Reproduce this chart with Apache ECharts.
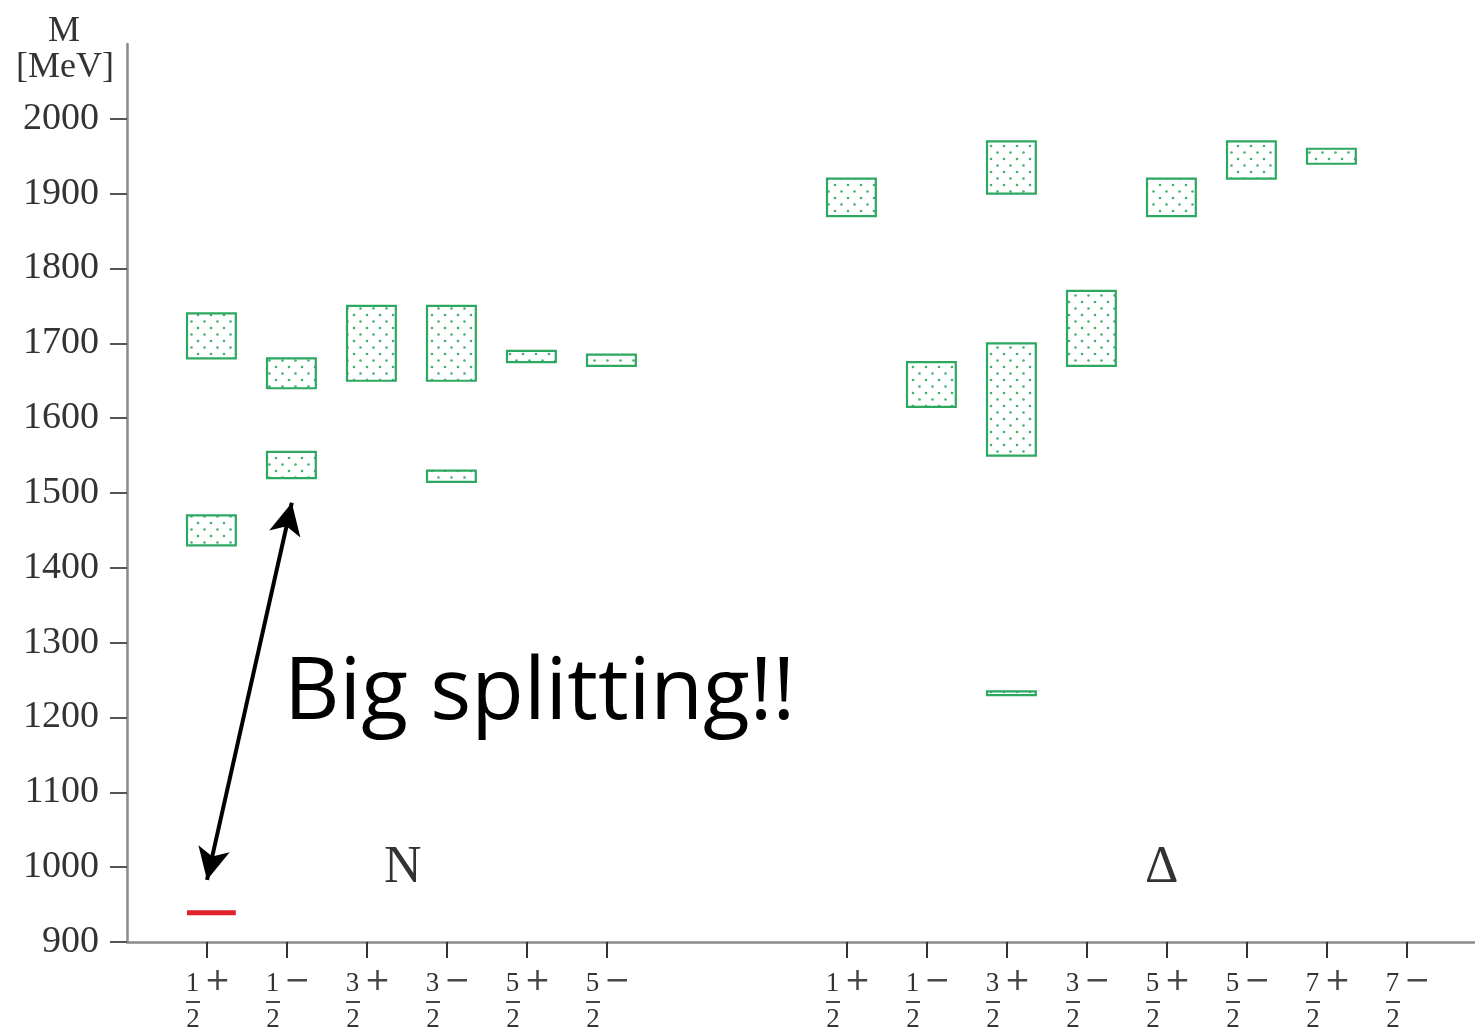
<!DOCTYPE html>
<html>
<head>
<meta charset="utf-8">
<title>N and Δ spectrum</title>
<script src="https://cdn.jsdelivr.net/npm/echarts@6/dist/echarts.min.js"></script>
<style>
  html, body { margin: 0; padding: 0; background: #ffffff; }
  #chart { width: 1475px; height: 1034px; }
</style>
</head>
<body>
<div id="chart"></div>
<script>
// J^P channels along the x axis (N on the left, Δ on the right)
const tickPositions  = [1, 2, 3, 4, 5, 6, 9, 10, 11, 12, 13, 14, 15, 16];
const tickNumerators = ['1', '1', '3', '3', '5', '5', '1', '1', '3', '3', '5', '5', '7', '7'];
const tickParities   = ['+', '−', '+', '−', '+', '−', '+', '−', '+', '−', '+', '−', '+', '−'];

// mass tick labels [MeV]
const massTicks = [900, 1000, 1100, 1200, 1300, 1400, 1500, 1600, 1700, 1800, 1900, 2000];

// resonance mass ranges [MeV]: channel position, lower and upper edge
const bandPos  = [1,    1,    2,    2,    3,    4,    4,    5,    6,    9,    10,   11,   11,   11,   12,   13,   14,   15];
const bandLow  = [1430, 1680, 1520, 1640, 1650, 1650, 1515, 1675, 1670, 1870, 1615, 1900, 1550, 1230, 1670, 1870, 1920, 1940];
const bandHigh = [1470, 1740, 1555, 1680, 1750, 1750, 1530, 1690, 1685, 1920, 1675, 1970, 1700, 1235, 1770, 1920, 1970, 1960];

// nucleon ground state
const groundPos  = [1];
const groundMass = [939];

// annotation arrow ends (channel position, mass)
const arrowFrom = [1.0, 983];
const arrowTo   = [2.06, 1487];

const GREEN = '#2ca860';
const BOX_L = -0.25, BOX_R = 0.36;

// dotted fill used inside the resonance boxes
function makeDots() {
  const c = document.createElement('canvas');
  c.width = 13; c.height = 13;
  const g = c.getContext('2d');
  g.fillStyle = 'rgba(44,168,96,0.9)';
  [[3, 3], [9.5, 9.5]].forEach(([x, y]) => {
    g.beginPath(); g.arc(x, y, 1.3, 0, Math.PI * 2); g.fill();
  });
  return c;
}
const dotPattern = { image: makeDots(), repeat: 'repeat' };

const bandData = bandPos.map((p, i) => [p, bandLow[i], bandHigh[i]]);
const groundData = groundPos.map((p, i) => [p, groundMass[i]]);

const chart = echarts.init(document.getElementById('chart'), null, { renderer: 'canvas' });

const serif = '"Liberation Serif", "DejaVu Serif", serif';

chart.setOption({
  animation: false,
  backgroundColor: '#ffffff',
  grid: { left: 127, right: 0, top: 44, bottom: 92 },
  xAxis: {
    type: 'value',
    min: 0,
    max: 16.85,
    splitLine: { show: false },
    axisLine: { show: true, lineStyle: { color: '#8a8a8a', width: 2.5 } },
    axisTick: {
      show: true, customValues: tickPositions, length: 16, inside: false,
      lineStyle: { color: '#333', width: 2 }
    },
    axisLabel: {
      show: true,
      customValues: tickPositions,
      margin: 29,
      hideOverlap: false,
      formatter: function (v) {
        const i = tickPositions.indexOf(v);
        if (i < 0) return '';
        return '{n|' + tickNumerators[i] + '}{s|' + tickParities[i] + '}\n' +
               '{p|}{b|}{q|}\n' +
               '{d|2}{g|}';
      },
      rich: {
        n: { fontFamily: serif, fontSize: 27, color: '#333', width: 20, align: 'center', lineHeight: 26 },
        s: { fontFamily: '"DejaVu Serif", serif', fontSize: 31, color: '#444', width: 28, align: 'left', lineHeight: 26, padding: [0, 0, 4, 1] },
        p: { width: 3, height: 2, lineHeight: 10 },
        b: { width: 14, height: 2, lineHeight: 10, backgroundColor: '#444' },
        q: { width: 31, height: 2, lineHeight: 10 },
        d: { fontFamily: serif, fontSize: 27, color: '#333', width: 20, align: 'center', lineHeight: 26 },
        g: { width: 28, lineHeight: 26 }
      }
    }
  },
  yAxis: {
    type: 'value',
    min: 900,
    max: 2100,
    splitLine: { show: false },
    axisLine: { show: true, lineStyle: { color: '#8a8a8a', width: 2.5 } },
    axisTick: {
      show: true, customValues: massTicks, length: 17, inside: false,
      lineStyle: { color: '#555', width: 2 }
    },
    axisLabel: {
      show: true,
      customValues: massTicks,
      margin: 28,
      formatter: function (v) { return String(v); },
      fontFamily: serif,
      fontSize: 38,
      color: '#333'
    }
  },
  graphic: [
    { type: 'text', left: 48, top: 14, style: { text: 'M', font: '36px ' + serif, fill: '#333' } },
    { type: 'text', left: 16, top: 50, style: { text: '[MeV]', font: '36px ' + serif, fill: '#333' } },
    { type: 'text', left: 284, top: 651, style: { text: 'Big splitting!!', font: '86px "Open Sans", sans-serif', fill: '#000' } },
    { type: 'text', left: 384, top: 842, style: { text: 'N', font: '52px ' + serif, fill: '#333' } },
    { type: 'text', left: 1145, top: 842, style: { text: 'Δ', font: '52px ' + serif, fill: '#333' } }
  ],
  series: [
    {
      name: 'resonances',
      type: 'custom',
      data: bandData,
      encode: { x: 0, y: [1, 2] },
      renderItem: function (params, api) {
        const k = api.value(0), lo = api.value(1), hi = api.value(2);
        const a = api.coord([k + BOX_L, hi]);
        const b = api.coord([k + BOX_R, lo]);
        return {
          type: 'rect',
          shape: { x: a[0], y: a[1], width: b[0] - a[0], height: b[1] - a[1] },
          style: { fill: dotPattern, stroke: GREEN, lineWidth: 2.2 }
        };
      },
      markLine: {
        silent: true,
        symbol: ['arrow', 'arrow'],
        symbolSize: [24, 32],
        label: { show: false },
        lineStyle: { color: '#000', width: 4, type: 'solid' },
        data: [[{ coord: arrowFrom }, { coord: arrowTo }]]
      }
    },
    {
      name: 'ground state',
      type: 'custom',
      data: groundData,
      encode: { x: 0, y: 1 },
      renderItem: function (params, api) {
        const k = api.value(0), m = api.value(1);
        const a = api.coord([k + BOX_L, m]);
        const b = api.coord([k + BOX_R, m]);
        return {
          type: 'line',
          shape: { x1: a[0], y1: a[1], x2: b[0], y2: b[1] },
          style: { stroke: '#e0202c', lineWidth: 5 }
        };
      }
    }
  ]
});
</script>
</body>
</html>
